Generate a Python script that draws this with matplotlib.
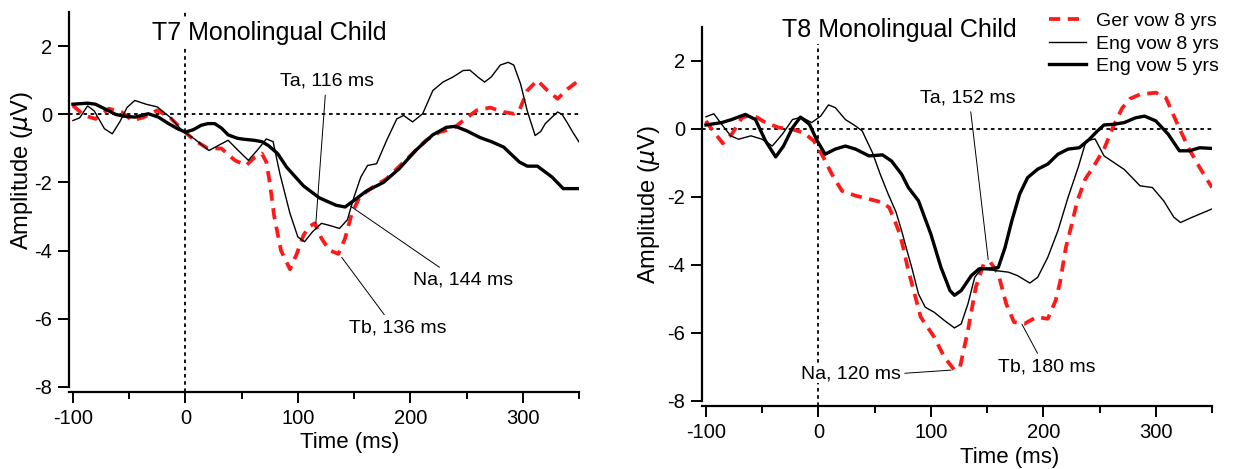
import matplotlib.pyplot as plt

plt.rcParams["font.family"] = ["Liberation Sans", "DejaVu Sans"]
plt.rcParams["axes.unicode_minus"] = False

# ==================================================
# DATA
# ==================================================

# T7 - Ger vow 8 yrs
t7_ger_t = [-100, -90, -80, -68, -57, -47, -37, -25, -14, -2, 8, 20, 32, 44, 54, 62,
            68, 72, 75, 79, 85, 93, 99, 105, 110, 115, 121, 128, 136, 142, 148, 155,
            167, 179, 191, 202, 214, 226, 238, 247, 259, 271, 283, 292, 297, 304, 313,
            322, 331, 340, 350]
t7_ger_v = [0.26, -0.03, -0.13, 0.17, 0.07, -0.18, -0.08, 0.12, -0.08, -0.47, -0.76,
            -1.0, -1.0, -1.35, -1.5, -1.25, -1.15, -1.4, -2.0, -3.0, -4.0, -4.55, -4.1,
            -3.55, -3.3, -3.2, -3.64, -3.99, -4.1, -3.64, -2.91, -2.42, -2.13, -1.89,
            -1.5, -1.15, -0.76, -0.52, -0.42, -0.18, 0.12, 0.2, 0.07, 0.02, 0.12, 0.7,
            1.0, 0.7, 0.46, 0.75, 1.0]

# T7 - Eng vow 8 yrs
t7_eng8_t = [-100, -94, -87, -81, -72, -65, -58, -52, -45, -35, -25, -13, -3, 8, 21, 30,
             38, 47, 56, 64, 72, 78, 84, 93, 100, 106, 113, 121, 128, 137, 144, 150,
             156, 162, 170, 179, 188, 194, 202, 211, 220, 229, 238, 247, 253, 260, 266,
             272, 280, 287, 292, 298, 304, 311, 316, 320, 327, 331, 335, 340, 345, 350]
t7_eng8_v = [-0.18, -0.1, 0.25, 0.1, -0.42, -0.57, -0.2, 0.2, 0.41, 0.3, 0.22, -0.1,
             -0.47, -0.72, -1.06, -0.9, -0.76, -1.06, -1.35, -1.05, -0.72, -0.8, -1.74,
             -2.91, -3.6, -3.74, -3.45, -3.2, -3.26, -3.35, -3.1, -2.42, -1.84, -1.5,
             -1.45, -0.76, -0.13, -0.03, -0.22, 0.02, 0.7, 0.95, 1.1, 1.29, 1.3, 1.1,
             0.95, 1.1, 1.45, 1.53, 1.45, 0.9, 0.1, -0.62, -0.5, -0.27, -0.05, 0.07,
             0.0, -0.27, -0.55, -0.81]

# T7 - Eng vow 5 yrs
t7_eng5_t = [-100, -87, -80, -72, -62, -55, -45, -33, -24, -15, -7, 0, 7, 14, 20, 26,
             32, 38, 46, 52, 61, 68, 74, 82, 90, 105, 119, 134, 142, 149, 161, 176, 190,
             205, 220, 232, 240, 250, 262, 272, 283, 297, 304, 313, 326, 336, 350]
t7_eng5_v = [0.3, 0.33, 0.3, 0.17, 0.0, -0.05, -0.08, 0.02, -0.08, -0.27, -0.42, -0.52,
             -0.45, -0.32, -0.27, -0.27, -0.4, -0.6, -0.7, -0.73, -0.76, -0.8, -0.92,
             -1.15, -1.55, -2.1, -2.45, -2.67, -2.72, -2.55, -2.25, -2.0, -1.6, -1.05,
             -0.6, -0.38, -0.35, -0.48, -0.68, -0.8, -0.96, -1.4, -1.52, -1.52, -1.84,
             -2.18, -2.18]

# T8 - Ger vow 8 yrs
t8_ger_t = [-100, -97, -85, -77, -68, -59, -47, -35, -23, -13, -4, 3, 12, 21, 33, 45,
            57, 63, 69, 73, 80, 91, 103, 112, 121, 126, 133, 140, 147, 153, 160, 167,
            174, 183, 194, 204, 211, 215, 220, 225, 230, 237, 246, 254, 262, 270, 277,
            286, 300, 309, 318, 329, 339, 350]
t8_ger_v = [0.23, 0.08, -0.43, -0.16, 0.32, 0.42, 0.18, 0.03, -0.02, -0.12, -0.36,
            -0.75, -1.34, -1.83, -1.97, -2.07, -2.17, -2.32, -2.8, -3.15, -4.17, -5.54,
            -6.13, -6.72, -7.1, -7.0, -5.93, -4.66, -3.98, -3.93, -4.27, -5.15, -5.69,
            -5.74, -5.54, -5.59, -5.05, -4.5, -3.5, -2.85, -2.15, -1.5, -1.04, -0.6,
            0.05, 0.6, 0.88, 1.01, 1.06, 0.91, 0.23, -0.56, -1.14, -1.73]

# T8 - Eng vow 8 yrs
t8_eng8_t = [-100, -93, -86, -78, -71, -60, -50, -41, -32, -23, -15, -6, 2, 9, 15, 24,
             33, 39, 48, 55, 62, 69, 74, 78, 83, 89, 95, 103, 112, 121, 127, 133, 139,
             145, 157, 169, 177, 188, 195, 204, 213, 222, 231, 238, 246, 254, 263, 272,
             286, 297, 307, 316, 322, 332, 350]
t8_eng8_v = [0.35, 0.44, 0.13, -0.21, -0.31, -0.21, -0.31, -0.51, -0.16, 0.27, 0.34,
             0.18, 0.37, 0.7, 0.62, 0.27, 0.08, -0.07, -0.7, -1.34, -1.92, -2.45, -3.0,
             -3.49, -4.08, -4.86, -5.25, -5.4, -5.64, -5.86, -5.74, -5.15, -4.37, -4.12,
             -4.17, -4.22, -4.32, -4.54, -4.37, -3.78, -3.0, -2.02, -1.14, -0.36, -0.3,
             -0.8, -1.0, -1.2, -1.68, -1.73, -2.12, -2.6, -2.76, -2.61, -2.36]

# T8 - Eng vow 5 yrs
t8_eng5_t = [-100, -86, -77, -65, -56, -47, -38, -31, -23, -16, -8, -1, 6, 15, 24, 33,
             45, 57, 65, 74, 80, 89, 100, 109, 117, 121, 127, 136, 143, 154, 160, 166,
             172, 179, 186, 195, 204, 213, 222, 232, 241, 248, 254, 263, 272, 282, 290,
             300, 311, 321, 330, 339, 350]
t8_eng5_v = [0.11, 0.18, 0.27, 0.42, 0.27, -0.36, -0.83, -0.51, 0.03, 0.34, 0.13,
             -0.36, -0.75, -0.6, -0.51, -0.6, -0.8, -0.77, -0.95, -1.34, -1.73, -2.12,
             -3.1, -4.08, -4.76, -4.9, -4.76, -4.32, -4.12, -4.12, -4.08, -3.49, -2.71,
             -1.92, -1.44, -1.19, -1.04, -0.75, -0.6, -0.56, -0.31, -0.07, 0.11, 0.13,
             0.18, 0.32, 0.37, 0.23, -0.16, -0.65, -0.65, -0.56, -0.58]

titulos = ["T7 Monolingual Child", "T8 Monolingual Child"]
legendas = ["Ger vow 8 yrs", "Eng vow 8 yrs", "Eng vow 5 yrs"]

# (texto, ponto do pico, posicao do texto, relpos da linha)
anot_t7 = [("Ta, 116 ms", (116, -3.2), (125.6, 0.98), (0.49, 0.0)),
           ("Na, 144 ms", (147, -2.7), (246.7, -4.87), (0.33, 1.0)),
           ("Tb, 136 ms", (139, -4.2), (188.8, -6.28), (0.40, 1.0))]
anot_t8 = [("Ta, 152 ms", (151, -3.85), (133.2, 0.91), (0.52, 0.0)),
           ("Na, 120 ms", (118, -7.1), (29.3, -7.2), (1.0, 0.5)),
           ("Tb, 180 ms", (181, -5.75), (203.4, -7.01), (0.43, 1.0))]

# ==================================================
# FIGURA
# ==================================================

fig = plt.figure(figsize=(12.38, 4.69), dpi=100)

ax1 = fig.add_axes([69/1238, 1-386.7/469, 510/1238, 374.4/469])
ax2 = fig.add_axes([702/1238, 1-400.7/469, 510/1238, 374/469])

series = [
    (ax1, t7_ger_t, t7_ger_v, t7_eng8_t, t7_eng8_v, t7_eng5_t, t7_eng5_v),
    (ax2, t8_ger_t, t8_ger_v, t8_eng8_t, t8_eng8_v, t8_eng5_t, t8_eng5_v),
]

for ax, gt, gv, e8t, e8v, e5t, e5v in series:
    ax.axhline(0, color="black", lw=1.3, ls=(0, (2, 2)), zorder=1)
    ax.axvline(0, ymin=-0.014, color="black", lw=1.3, ls=(0, (2, 2)),
               clip_on=False, zorder=1)

    ax.plot(gt, gv, color="#ff1a1a", lw=2.7, dashes=(3, 2),
            label=legendas[0], zorder=3)
    ax.plot(e8t, e8v, color="black", lw=1.0, label=legendas[1], zorder=3)
    ax.plot(e5t, e5v, color="black", lw=2.4, label=legendas[2], zorder=4,
            solid_joinstyle="round")

    ax.set_xlim(-103.5, 350)
    ax.set_ylim(-8, 3)
    ax.set_xticks([-100, 0, 100, 200, 300])
    ax.set_xticks([-50, 50, 150, 250, 350], minor=True)
    ax.set_yticks([-8, -6, -4, -2, 0, 2])

    ax.spines["top"].set_visible(False)
    ax.spines["right"].set_visible(False)
    ax.spines["left"].set_linewidth(1.6)
    ax.spines["bottom"].set_linewidth(1.6)
    ax.spines["bottom"].set_position(("outward", 4))

    ax.tick_params(axis="both", which="major", direction="out", length=8,
                   width=1.4, labelsize=14.5, pad=4)
    ax.tick_params(axis="x", which="minor", direction="out", length=5, width=1.4)

for ax, titulo, tx, ty in [(ax1, titulos[0], 0.392, 0.926),
                           (ax2, titulos[1], 0.386, 0.972)]:
    ax.text(tx, ty, titulo, transform=ax.transAxes,
            ha="center", va="baseline", fontsize=18,
            bbox=dict(facecolor="white", edgecolor="none", pad=1), zorder=5)

ax1.set_xlabel("Time (ms)", fontsize=16, va="center")
ax1.xaxis.set_label_coords(0.551, -0.150)
ax2.set_xlabel("Time (ms)", fontsize=16, va="center")
ax2.xaxis.set_label_coords(0.604, -0.153)

ax1.set_ylabel(r"Amplitude ($\mu$V)", fontsize=17, va="center")
ax1.yaxis.set_label_coords(-0.093, 0.576)
ax2.set_ylabel(r"Amplitude ($\mu$V)", fontsize=17, va="center")
ax2.yaxis.set_label_coords(-0.104, 0.525)

for ax, anots in [(ax1, anot_t7), (ax2, anot_t8)]:
    for texto, ponto, pos, rp in anots:
        caixa = None
        if texto.startswith("Na, 120"):
            caixa = dict(facecolor="white", edgecolor="none", pad=0.5)
        ax.annotate(texto, xy=ponto, xytext=pos, ha="center", va="center",
                    fontsize=14, bbox=caixa, zorder=6,
                    arrowprops=dict(arrowstyle="-", color="black", lw=0.7,
                                    shrinkA=2, shrinkB=0, relpos=rp))

h, l = ax2.get_legend_handles_labels()
fig.legend(h, l, loc="upper right", bbox_to_anchor=(0.995, 1.0), frameon=False,
           fontsize=14, handlelength=1.9, handletextpad=0.55, labelspacing=0.25,
           borderpad=0.15)

fig.savefig("out.png", dpi=100)
